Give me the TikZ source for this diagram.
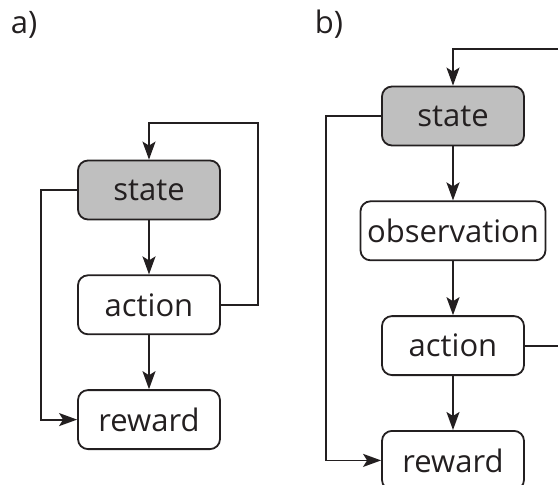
\documentclass[tikz,border=0pt]{standalone}
\usepackage{fontspec}
\setmainfont{Open Sans}
\usetikzlibrary{arrows.meta,positioning}
\definecolor{inkdark}{HTML}{231F20}
\definecolor{stategray}{gray}{0.75}

\begin{document}
\begin{tikzpicture}[x=1pt,y=-1pt,>={Stealth[length=18pt,width=13pt,inset=4pt]},line width=1.8pt,draw=inkdark,node distance=54pt,
  box/.style={draw=inkdark,rounded corners=10pt,minimum width=142pt,minimum height=59pt,inner sep=2pt,text=inkdark,font=\fontsize{31}{36}\selectfont},
  panel/.style={text=inkdark,font=\fontsize{31}{36}\selectfont}]
\useasboundingbox (0,0) rectangle (558,485);
\clip (0,0) rectangle (558,485);
% a)
\node[panel] (lab_a) at (24,25) {a)};
\node[box,fill=stategray] (state_a) at (149,190) {state};
\node[box] [below=of state_a] (action_a) {action};
\node[box] [below=of action_a] (reward_a) {reward};
\coordinate (top_a) at (258,123);
\coordinate (left_a) at (41,300);
\draw[->,inkdark] (state_a) -- (action_a);
\draw[->,inkdark] (action_a) -- (reward_a);
\draw[->,inkdark] (action_a.east) -| (top_a) -| (state_a.north);
\draw[->,inkdark] (state_a.west) -| (left_a) |- (reward_a.west);
% b)
\node[panel] (lab_b) at (329,24) {b)};
\node[box,fill=stategray] (state_b) at (453,116) {state};
\node[box,minimum width=185pt] [below=of state_b] (obs_b) {observation};
\node[box] [below=of obs_b] (action_b) {action};
\node[box] [below=of action_b] (reward_b) {reward};
\coordinate (top_b) at (600,49);
\coordinate (left_b) at (326,300);
\draw[->,inkdark] (state_b) -- (obs_b);
\draw[->,inkdark] (obs_b) -- (action_b);
\draw[->,inkdark] (action_b) -- (reward_b);
\draw[->,inkdark] (action_b.east) -| (top_b) -| (state_b.north);
\draw[->,inkdark] (state_b.west) -| (left_b) |- (reward_b.west);
\end{tikzpicture}
\end{document}
